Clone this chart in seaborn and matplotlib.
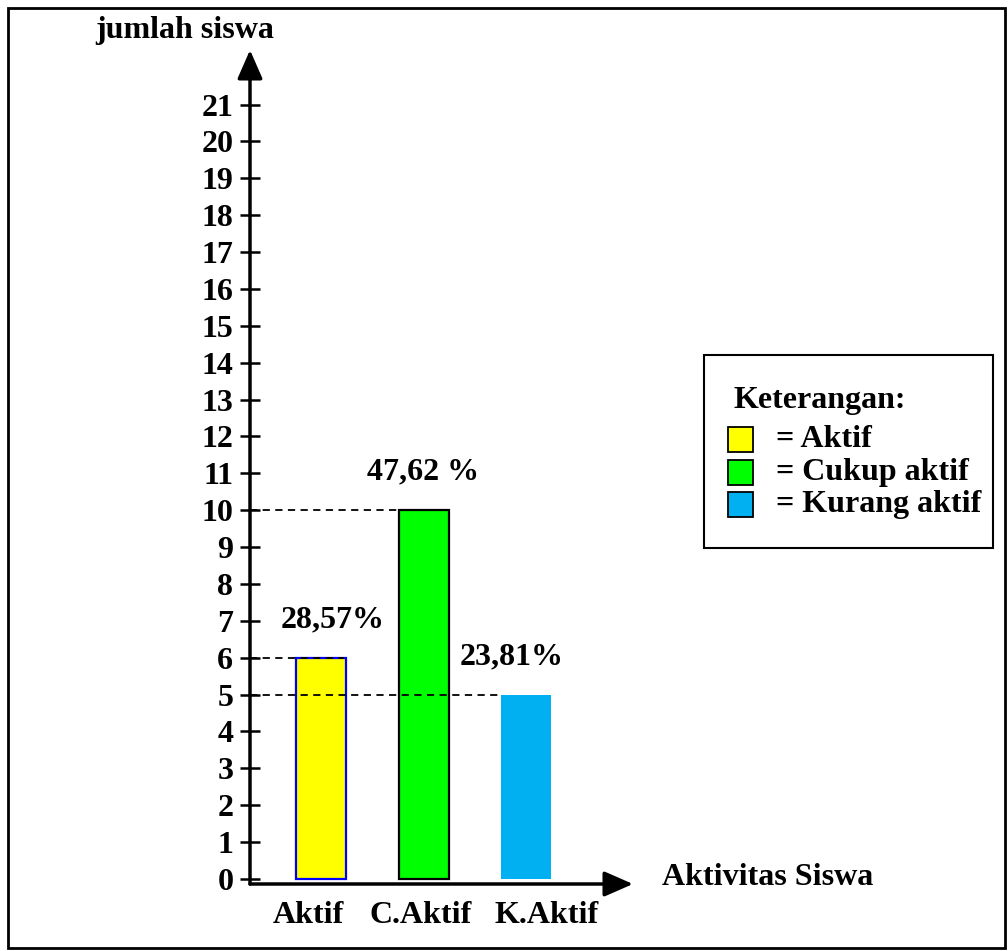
import matplotlib
matplotlib.use("Agg")
import matplotlib.pyplot as plt
from matplotlib.patches import Rectangle
import seaborn as sns

# Data
categories = ["Aktif", "C.Aktif", "K.Aktif"]
counts = [6, 10, 5]
pct_labels = ["28,57%", "47,62 %", "23,81%"]
bar_colors = ["#ffff00", "#00ff00", "#00b0f0"]
edge_colors = ["#0000ff", "#000000", "none"]
legend_labels = ["= Aktif", "= Cukup aktif", "= Kurang aktif"]
y_ticks = list(range(0, 22))

sns.set_theme(style="white")
plt.rcParams["font.family"] = ["Liberation Serif", "DejaVu Serif"]
plt.rcParams["font.weight"] = "bold"
plt.rcParams["text.color"] = "black"
plt.rcParams["xtick.color"] = "black"
plt.rcParams["ytick.color"] = "black"
plt.rcParams["xtick.labelcolor"] = "black"
plt.rcParams["ytick.labelcolor"] = "black"

FS = 23
W, H = 1008, 951
fig = plt.figure(figsize=(W / 100, H / 100), dpi=100)


def fx(px):
    return px / W


def fy(py):
    return 1 - py / H


# Axes area spans from the y-axis line to the x arrow tip
ax = fig.add_axes([fx(250), fy(884), fx(633) - fx(250), fy(50) - fy(884)])

bw = 0.488
sns.barplot(x=categories, y=counts, hue=categories, palette=bar_colors,
            legend=False, width=bw, saturation=1, ax=ax, zorder=3)
for patch, ec in zip(ax.patches, edge_colors):
    if ec == "none":
        patch.set_edgecolor("none")
    else:
        patch.set_edgecolor(ec)
        patch.set_linewidth(1.6)

ax.set_xlim(-0.693, 3.044)
ax.set_ylim(-0.136, 22.48)

# Dashed guides from the y axis towards each bar (drawn over the bars)
guide_end = [0.22, 0.93, 1.77]
for v, xe in zip(counts, guide_end):
    ax.plot([-0.693, xe], [v, v], ls=(0, (4, 3)), color="black",
            lw=1.3, zorder=4, clip_on=False)

# Percentage labels above bars
label_dx = [8, 0, -10]
for i, (v, lab, dx) in enumerate(zip(counts, pct_labels, label_dx)):
    ax.annotate(lab, xy=(i, v), xytext=(dx, 22), textcoords="offset points",
                ha="center", va="baseline", fontsize=FS, fontweight="bold")

for s in ax.spines.values():
    s.set_visible(False)

# Axis arrows
arrow = dict(arrowstyle="-|>,head_length=0.8,head_width=0.35", lw=2.5,
             color="black", mutation_scale=22, shrinkA=0, shrinkB=0)
ax.annotate("", xy=(0, 1), xytext=(0, 0), xycoords="axes fraction",
            arrowprops=arrow, annotation_clip=False)
ax.annotate("", xy=(1, 0), xytext=(0, 0), xycoords="axes fraction",
            arrowprops=arrow, annotation_clip=False)

ax.set_yticks(y_ticks)
ax.set_yticklabels([str(t) for t in y_ticks], fontsize=FS, fontweight="bold")
ax.tick_params(axis="y", direction="inout", length=14, width=1.8,
               color="black", pad=5, left=True)
# Category names sit slightly off the bar centres
ax.set_xticks([-0.12, 0.97, 2.2])
ax.set_xticklabels(categories, fontsize=FS, fontweight="bold")
ax.tick_params(axis="x", length=0, pad=12)
ax.set_xlabel("")
ax.set_ylabel("")
ax.grid(False)
ax.set_facecolor("none")

# Axis titles
fig.text(fx(185), fy(38), "jumlah siswa", ha="center", va="baseline",
         fontsize=FS, fontweight="bold")
fig.text(fx(662), fy(885), "Aktivitas Siswa", ha="left", va="baseline",
         fontsize=FS, fontweight="bold")

# Legend box
fig.patches.append(Rectangle((fx(704), fy(548)), fx(993) - fx(704),
                             fy(355) - fy(548), transform=fig.transFigure,
                             fill=False, ec="black", lw=1.5))
fig.text(fx(733), fy(408), "Keterangan:", ha="left", va="baseline",
         fontsize=FS, fontweight="bold")
sq_tops = [427, 460, 492]
for top, col, lab in zip(sq_tops, bar_colors, legend_labels):
    fig.patches.append(Rectangle((fx(728), fy(top + 25)), fx(25), 25 / H,
                                 transform=fig.transFigure, fc=col,
                                 ec="black", lw=1.3))
    fig.text(fx(776), fy(top + 12.5), lab, ha="left", va="center",
             fontsize=FS, fontweight="bold")

# Outer frame
fig.patches.append(Rectangle((fx(8), fy(948)), fx(997), 940 / H,
                             transform=fig.transFigure, fill=False,
                             ec="black", lw=2))

fig.savefig("out.png", dpi=100, facecolor="white")
